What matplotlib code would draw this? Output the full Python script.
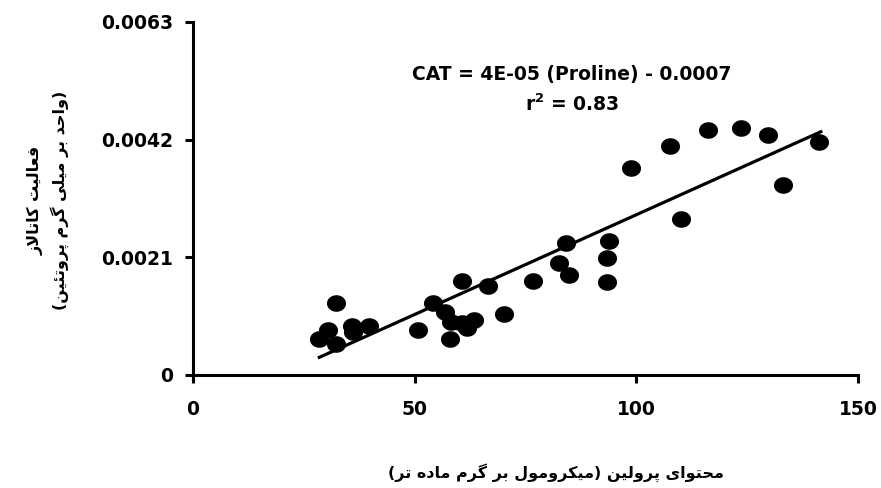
import numpy as np
import matplotlib
matplotlib.use("Agg")
import matplotlib.pyplot as plt
from matplotlib.path import Path

# proline content (umol / g fresh weight) and catalase activity (unit / mg protein)
proline = [28.5, 30.4, 32.2, 32.3, 35.8, 36.0, 39.7, 50.7, 54.1, 56.8, 58.1,
           58.0, 60.6, 60.6, 61.8, 63.3, 66.6, 70.1, 76.7, 82.5, 84.2, 84.8,
           93.4, 93.4, 93.9, 98.9, 107.6, 110.1, 116.2, 123.5, 129.7, 133.1,
           141.1]
catalase = [0.00065, 0.00080, 0.00056, 0.00129, 0.00087, 0.00077, 0.00087,
            0.00080, 0.00129, 0.00113, 0.00095, 0.00065, 0.00168, 0.00092,
            0.00083, 0.00099, 0.00159, 0.00108, 0.00168, 0.00199, 0.00235,
            0.00178, 0.00166, 0.00208, 0.00239, 0.00369, 0.00409, 0.00279,
            0.00438, 0.00440, 0.00429, 0.00339, 0.00415]

# trend line as drawn in the original chart
fit_slope = 3.56e-05
fit_intercept = -0.0007

x_ticks = [0, 50, 100, 150]
y_ticks = [0, 0.0021, 0.0042, 0.0063]
y_tick_labels = ["0", "0.0021", "0.0042", "0.0063"]

eq_text = "CAT = 4E-05 (Proline) - 0.0007"
r2_text = "r$^\\mathbf{2}$ = 0.83"
y_label_1 = "فعالیت کاتالاز"
y_label_2 = "(واحد بر میلی گرم پروتئین)"
x_label = "محتوای پرولین (میکرومول بر گرم ماده تر)"

# --- minimal persian shaping (matplotlib has no bidi / joining support)
# (isolated, final, initial, medial)
FORMS = {
    "ا": (0xFE8D, 0xFE8E, None, None),
    "ب": (0xFE8F, 0xFE90, 0xFE91, 0xFE92),
    "پ": (0xFB56, 0xFB57, 0xFB58, 0xFB59),
    "ت": (0xFE95, 0xFE96, 0xFE97, 0xFE98),
    "ح": (0xFEA1, 0xFEA2, 0xFEA3, 0xFEA4),
    "د": (0xFEA9, 0xFEAA, None, None),
    "ر": (0xFEAD, 0xFEAE, None, None),
    "ز": (0xFEAF, 0xFEB0, None, None),
    "ع": (0xFEC9, 0xFECA, 0xFECB, 0xFECC),
    "ف": (0xFED1, 0xFED2, 0xFED3, 0xFED4),
    "ک": (0xFB8E, 0xFB8F, 0xFB90, 0xFB91),
    "گ": (0xFB92, 0xFB93, 0xFB94, 0xFB95),
    "ل": (0xFEDD, 0xFEDE, 0xFEDF, 0xFEE0),
    "م": (0xFEE1, 0xFEE2, 0xFEE3, 0xFEE4),
    "ن": (0xFEE5, 0xFEE6, 0xFEE7, 0xFEE8),
    "ه": (0xFEE9, 0xFEEA, 0xFEEB, 0xFEEC),
    "و": (0xFEED, 0xFEEE, None, None),
    "ی": (0xFBFC, 0xFBFD, 0xFBFE, 0xFBFF),
    "ئ": (0xFE89, 0xFE8A, 0xFE8B, 0xFE8C),
}


def shape_fa(text):
    out = []
    i = 0
    prev_joins = False
    while i < len(text):
        ch = text[i]
        if ch not in FORMS:
            out.append(ch)
            prev_joins = False
            i += 1
            continue
        nxt = text[i + 1] if i + 1 < len(text) else ""
        # lam-alef ligature
        if ch == "ل" and nxt == "ا":
            out.append(chr(0xFEFC if prev_joins else 0xFEFB))
            prev_joins = False
            i += 2
            continue
        iso, fin, ini, med = FORMS[ch]
        joins_next = ini is not None and nxt in FORMS
        if prev_joins and joins_next:
            g = med
        elif prev_joins:
            g = fin
        elif joins_next:
            g = ini
        else:
            g = iso
        out.append(chr(g))
        prev_joins = joins_next
        i += 1
    vis = "".join(reversed(out))
    return vis.translate(str.maketrans("()", ")("))


# the original chart is a bit stretched sideways -> slightly wide dots
t = np.linspace(0, 2 * np.pi, 60)
dot = Path(np.column_stack([np.cos(t), 0.86 * np.sin(t)]), closed=True)

fig = plt.figure(figsize=(8.81, 4.88), dpi=100)
ax = fig.add_axes([0.219, 0.2316, 0.755, 0.7234])

ax.plot(proline, catalase, linestyle="none", marker=dot, color="black",
        markersize=12.7, zorder=3)

xs = np.array([min(proline), max(proline) + 0.5])
ax.plot(xs, fit_slope * xs + fit_intercept, color="black", linewidth=2.3,
        zorder=2)

ax.set_xlim(0, 150)
ax.set_ylim(0, 0.0063)
ax.set_xticks(x_ticks)
ax.set_yticks(y_ticks)
ax.set_yticklabels(y_tick_labels)

for s in ["top", "right"]:
    ax.spines[s].set_visible(False)
for s in ["left", "bottom"]:
    ax.spines[s].set_linewidth(2.2)
ax.tick_params(width=2.2, length=6, direction="out")
ax.tick_params(axis="x", pad=12)
ax.tick_params(axis="y", pad=8)
for lab in ax.get_xticklabels() + ax.get_yticklabels():
    lab.set_fontfamily("DejaVu Sans")
    lab.set_fontweight("bold")
    lab.set_fontsize(13.5)

ax.text(0.57, 0.850, eq_text, transform=ax.transAxes, ha="center",
        va="center", fontsize=13.5, fontweight="bold", family="DejaVu Sans")
ax.text(0.57, 0.768, r2_text, transform=ax.transAxes, ha="center",
        va="center", fontsize=13.5, fontweight="bold", family="DejaVu Sans")

fig.text(0.040, 0.59, shape_fa(y_label_1), rotation=90, ha="center",
         va="center", fontsize=11.5, fontweight="bold", family="DejaVu Sans")
fig.text(0.068, 0.59, shape_fa(y_label_2), rotation=90, ha="center",
         va="center", fontsize=11.5, fontweight="bold", family="DejaVu Sans")
fig.text(0.631, 0.031, shape_fa(x_label), ha="center", va="center",
         fontsize=11.5, fontweight="bold", family="DejaVu Sans")

fig.savefig("out.png", dpi=100)
